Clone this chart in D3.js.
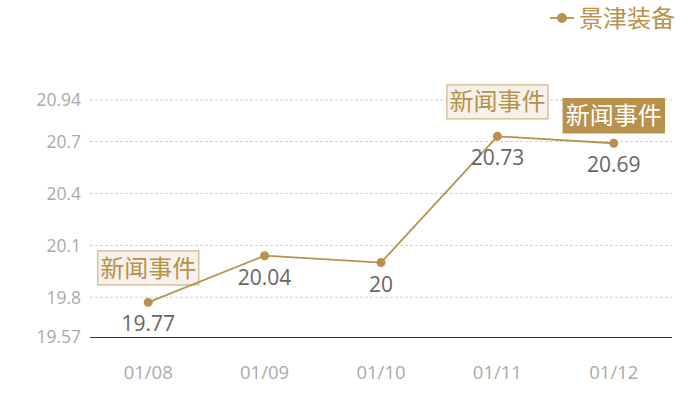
<!DOCTYPE html>
<html><head><meta charset="utf-8">
<script src="https://cdn.jsdelivr.net/npm/d3@7"></script>
<style>body{margin:0;background:#fff}svg{display:block}</style>
</head><body>
<svg id="c" width="700" height="400"></svg>
<script>
const categories = ["01/08","01/09","01/10","01/11","01/12"];
const values = [19.77, 20.04, 20.00, 20.73, 20.69];
const valueLabels = ["19.77","20.04","20","20.73","20.69"];
const yTicks = [19.57, 19.8, 20.1, 20.4, 20.7, 20.94];
const seriesName = "景津装备";
const eventCats = ["01/08","01/11","01/12"];
const eventText = "新闻事件";
const eventActive = [false, false, true];

const color = "#b8914d";
const svg = d3.select("#c");
const numFont = "'Open Sans','Noto Sans',sans-serif";
const cjkFont = "'Noto Sans CJK SC',sans-serif";

const x = d3.scaleBand().domain(categories).range([90, 672]);
const y = d3.scaleLinear().domain([19.57, 20.94]).range([337, 100]);
const cx = c => x(c) + x.bandwidth()/2;

// grid
svg.append("g").selectAll("line").data(yTicks.filter(t => t !== 19.57)).join("line")
  .attr("x1", 90).attr("x2", 672).attr("y1", d => y(d)).attr("y2", d => y(d))
  .attr("stroke", "#d0d0d0").attr("stroke-dasharray", "3,2").attr("stroke-width", 1);

// y axis labels
svg.append("g").selectAll("text").data(yTicks).join("text")
  .attr("x", 81).attr("y", d => y(d)).attr("dy", "0.36em").attr("text-anchor", "end")
  .attr("font-family", numFont).attr("font-size", 17.5).attr("fill", "#aaaaaa")
  .text(d => d);

// x axis line
svg.append("line").attr("x1", 90).attr("x2", 672).attr("y1", 337.5).attr("y2", 337.5)
  .attr("stroke", "#333").attr("stroke-width", 1);

svg.append("g").selectAll("text").data(categories).join("text")
  .attr("x", d => cx(d)).attr("y", 379).attr("text-anchor", "middle")
  .attr("font-family", numFont).attr("font-size", 18.5).attr("fill", "#aaaaaa")
  .text(d => d);

// event boxes
const boxW = 101, boxH = 34;
const evG = svg.append("g");
eventCats.forEach((c, i) => {
  const v = values[categories.indexOf(c)];
  const bx = cx(c) - 51, by = y(v) - 52;
  const g = evG.append("g");
  g.append("rect").attr("x", bx + 0.5).attr("y", by + 0.5).attr("width", boxW).attr("height", boxH)
    .attr("fill", eventActive[i] ? color : "#f6f1ea")
    .attr("stroke", eventActive[i] ? color : "#d6c09a").attr("stroke-width", 1.5);
  g.append("text").attr("x", bx + boxW/2 + 0.5).attr("y", by + boxH/2 + 0.5).attr("dy", "0.36em")
    .attr("text-anchor", "middle").attr("font-family", cjkFont).attr("font-size", 24)
    .attr("fill", eventActive[i] ? "#ffffff" : color).text(eventText);
});
// offset for 01/12 box per reference layout
evG.selectAll("g").filter((d, i) => i === 2).attr("transform", "translate(0,7)");

// line
const line = d3.line().x((d, i) => cx(categories[i])).y(d => y(d));
svg.append("path").datum(values).attr("d", line).attr("fill", "none")
  .attr("stroke", color).attr("stroke-width", 1.8);
svg.append("g").selectAll("circle").data(values).join("circle")
  .attr("cx", (d, i) => cx(categories[i])).attr("cy", d => y(d)).attr("r", 4.5)
  .attr("fill", color);

// value labels
svg.append("g").selectAll("text").data(values).join("text")
  .attr("x", (d, i) => cx(categories[i])).attr("y", d => y(d) + 29).attr("text-anchor", "middle")
  .attr("font-family", numFont).attr("font-size", 21).attr("fill", "#666666")
  .text((d, i) => valueLabels[i]);

// legend
const lg = svg.append("g");
lg.append("line").attr("x1", 550).attr("x2", 574).attr("y1", 18).attr("y2", 18)
  .attr("stroke", color).attr("stroke-width", 1.8);
lg.append("circle").attr("cx", 562).attr("cy", 18).attr("r", 5).attr("fill", color);
lg.append("text").attr("x", 579).attr("y", 18).attr("dy", "0.36em")
  .attr("font-family", cjkFont).attr("font-size", 24).attr("fill", color).text(seriesName);
</script>
</body></html>
